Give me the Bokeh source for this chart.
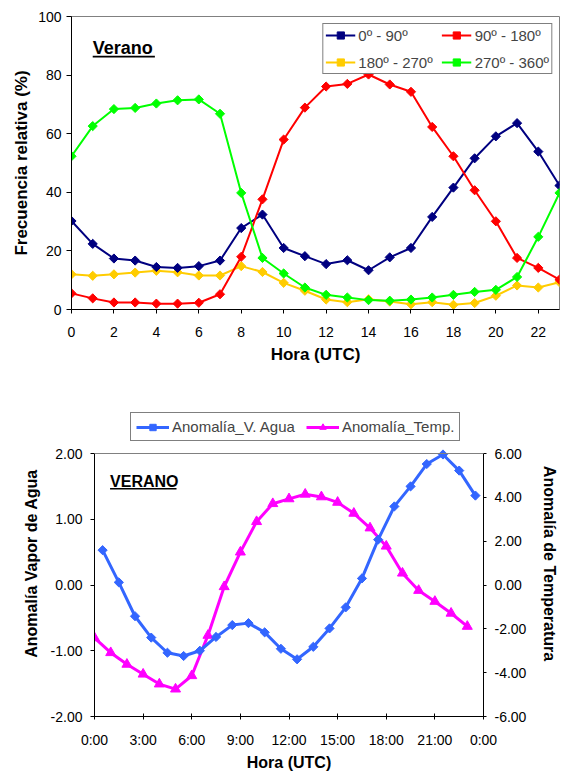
from bokeh.plotting import figure
from bokeh.models import (Range1d, LinearAxis, FixedTicker, PrintfTickFormatter,
                          Legend, LegendItem, Label, BoxAnnotation, Span)
from bokeh.layouts import column
from bokeh.embed import file_html
from bokeh.resources import INLINE
import math

# ---------------- data: top chart ----------------
hours = [0, 1, 2, 3, 4, 5, 6, 7, 8, 9, 10, 11, 12, 13, 14, 15, 16, 17, 18, 19, 20, 21, 22, 23]
s_0_90 = [30.2, 22.4, 17.4, 16.7, 14.5, 14.2, 14.8, 16.7, 27.8, 32.4, 21.0, 18.2,
          15.5, 16.8, 13.4, 17.8, 21.0, 31.6, 41.6, 51.6, 59.1, 63.6, 53.9, 42.3]
s_90_180 = [5.5, 3.8, 2.4, 2.4, 2.0, 2.0, 2.3, 5.2, 18.0, 37.6, 58.0, 68.9,
            76.1, 77.0, 80.2, 76.8, 74.3, 62.3, 52.3, 40.7, 30.1, 17.6, 14.2, 10.2]
s_180_270 = [12.0, 11.5, 12.0, 12.6, 13.2, 12.7, 11.6, 11.6, 14.8, 12.8, 9.1, 6.4,
             3.4, 2.5, 3.5, 2.7, 1.8, 2.5, 1.6, 2.2, 4.7, 8.2, 7.5, 9.3]
s_270_360 = [52.3, 62.6, 68.4, 68.8, 70.3, 71.4, 71.7, 66.8, 39.8, 17.6, 12.3, 7.5,
             5.0, 4.1, 3.2, 3.0, 3.4, 4.1, 5.0, 6.0, 6.7, 11.1, 24.8, 39.8]
top_series_names = ["0º - 90º", "90º - 180º", "180º - 270º", "270º - 360º"]
top_x_ticks = [0, 2, 4, 6, 8, 10, 12, 14, 16, 18, 20, 22]
top_y_ticks = [0, 20, 40, 60, 80, 100]

# ---------------- data: bottom chart ----------------
hours_vapor = [0.5, 1.5, 2.5, 3.5, 4.5, 5.5, 6.5, 7.5, 8.5, 9.5, 10.5, 11.5,
               12.5, 13.5, 14.5, 15.5, 16.5, 17.5, 18.5, 19.5, 20.5, 21.5, 22.5, 23.5]
vapor = [0.53, 0.04, -0.475, -0.80, -1.03, -1.08, -1.00, -0.79, -0.61, -0.58, -0.72, -0.97,
         -1.13, -0.94, -0.66, -0.34, 0.10, 0.69, 1.195, 1.50, 1.84, 1.985, 1.74, 1.36]
hours_temp = [0, 1, 2, 3, 4, 5, 6, 7, 8, 9, 10, 11, 12, 13, 14, 15, 16, 17, 18, 19, 20, 21, 22, 23]
temp = [-2.41, -3.09, -3.62, -4.07, -4.52, -4.75, -4.14, -2.30, -0.08, 1.50, 2.89, 3.71,
        3.93, 4.14, 4.02, 3.77, 3.27, 2.60, 1.77, 0.54, -0.25, -0.75, -1.29, -1.89]
bottom_series_names = ["Anomalía_V. Agua", "Anomalía_Temp."]
bottom_x_ticks = [0, 3, 6, 9, 12, 15, 18, 21, 24]
bottom_x_labels = ["0:00", "3:00", "6:00", "9:00", "12:00", "15:00", "18:00", "21:00", "0:00"]
left_y_ticks = [-2, -1, 0, 1, 2]
right_y_ticks = [-6, -4, -2, 0, 2, 4, 6]
left_y_limits = (-2, 2)
right_y_limits = (-6, 6)

FONT = "Liberation Sans"


def style_axis(ax, label_size="14px", title_size="17px"):
    ax.axis_line_color = "black"
    ax.major_tick_line_color = "black"
    ax.minor_tick_line_color = None
    ax.major_label_text_font = FONT
    ax.major_label_text_font_size = label_size
    ax.major_label_text_color = "black"
    ax.axis_label_text_font = FONT
    ax.axis_label_text_font_size = title_size
    ax.axis_label_text_font_style = "bold"
    ax.axis_label_text_color = "black"


# ================= TOP FIGURE =================
p1 = figure(width=561, height=400, output_backend="svg", toolbar_location=None,
            x_range=Range1d(0, 23), y_range=Range1d(0, 100),
            min_border_left=71, min_border_right=2, min_border_top=16, min_border_bottom=91)
p1.frame_align = False
p1.xgrid.visible = False
p1.ygrid.visible = False
p1.outline_line_color = "#808080"
p1.outline_line_width = 1

xa = p1.xaxis[0]
ya = p1.yaxis[0]
style_axis(xa, title_size="17px")
style_axis(ya, title_size="17px")
xa.ticker = FixedTicker(ticks=top_x_ticks)
ya.ticker = FixedTicker(ticks=top_y_ticks)
xa.axis_label = "Hora (UTC)"
ya.axis_label = "Frecuencia relativa (%)"
xa.major_tick_in = 0
xa.major_tick_out = 4
xa.major_label_standoff = 13
xa.axis_label_standoff = 5
ya.major_tick_in = 0
ya.major_tick_out = 5
ya.major_label_standoff = 5
ya.axis_label_standoff = 4

top_colors = ["#000080", "#FF0000", "#FFCC00", "#00FF00"]
top_data = [s_0_90, s_90_180, s_180_270, s_270_360]
rends = {}
for i in [2, 0, 1, 3]:
    ln = p1.line(hours, top_data[i], line_color=top_colors[i], line_width=2)
    mk = p1.scatter(hours, top_data[i], marker="square", angle=math.pi / 4, size=6.5,
                    fill_color=top_colors[i], line_color=top_colors[i])
    rends[i] = [ln, mk]
items = [LegendItem(label=top_series_names[i], renderers=rends[i]) for i in range(4)]

leg1 = Legend(items=items, location="top_right", orientation="horizontal", nrows=2)
leg1.margin = 7
leg1.padding = 2
leg1.spacing = 9
leg1.glyph_width = 30
leg1.glyph_height = 18
leg1.label_standoff = 3
leg1.label_text_font = FONT
leg1.label_text_font_size = "15px"
leg1.label_height = 18
leg1.border_line_color = "black"
leg1.border_line_width = 1
p1.add_layout(leg1, "center")

p1.add_layout(Label(x=1.0, y=89.1, text="Verano", text_font=FONT, text_font_size="18px",
                    text_font_style="bold", text_color="black", text_baseline="alphabetic"))
p1.add_layout(BoxAnnotation(left=1.0, right=3.93, bottom=86.0, top=86.6,
                            fill_color="black", fill_alpha=1, line_color=None))

# ================= BOTTOM FIGURE =================
# frame extends above the 2.00 tick so the legend sits inside it; axes are bounded
p2 = figure(width=561, height=373, output_backend="svg", toolbar_location=None,
            x_range=Range1d(0, 24), y_range=Range1d(-2, 2.654),
            min_border_left=94, min_border_right=73, min_border_top=10, min_border_bottom=55)
p2.frame_align = False
p2.xgrid.visible = False
p2.ygrid.visible = False
p2.outline_line_color = None
p2.extra_y_ranges = {"temp": Range1d(-6, 7.962)}

bx = p2.xaxis[0]
ly = p2.yaxis[0]
style_axis(bx, title_size="16px")
style_axis(ly, title_size="16px")
bx.ticker = FixedTicker(ticks=bottom_x_ticks)
bx.major_label_overrides = {t: l for t, l in zip(bottom_x_ticks, bottom_x_labels)}
bx.axis_label = "Hora (UTC)"
bx.major_tick_in = 3
bx.major_tick_out = 3
bx.major_label_standoff = 12
bx.axis_label_standoff = 3
ly.ticker = FixedTicker(ticks=left_y_ticks)
ly.bounds = left_y_limits
ly.formatter = PrintfTickFormatter(format="%.2f")
ly.axis_label = "Anomalía Vapor de Agua"
ly.major_tick_in = 0
ly.major_tick_out = 4
ly.major_label_standoff = 8
ly.axis_label_standoff = 8

ry = LinearAxis(y_range_name="temp")
style_axis(ry, title_size="16px")
ry.ticker = FixedTicker(ticks=right_y_ticks)
ry.bounds = right_y_limits
ry.formatter = PrintfTickFormatter(format="%.2f")
ry.axis_label = "Anomalía de Temperatura"
ry.major_tick_in = 0
ry.major_tick_out = 3
ry.major_label_standoff = 8
ry.axis_label_standoff = 12
p2.add_layout(ry, "right")

# top border of the plot area (at the 2.00 level)
p2.add_layout(Span(location=left_y_limits[1], dimension="width", line_color="#808080",
                   line_width=1))

blue = "#3366FF"
mag = "#FF00FF"
l_t = p2.line(hours_temp, temp, line_color=mag, line_width=3, y_range_name="temp")
m_t = p2.scatter(hours_temp, temp, marker="triangle", size=10, fill_color=mag, line_color=mag,
                 y_range_name="temp")
l_v = p2.line(hours_vapor, vapor, line_color=blue, line_width=3)
m_v = p2.scatter(hours_vapor, vapor, marker="square", angle=math.pi / 4, size=6.5,
                 fill_color=blue, line_color=blue)

leg2 = Legend(items=[LegendItem(label=bottom_series_names[0], renderers=[l_v, m_v]),
                     LegendItem(label=bottom_series_names[1], renderers=[l_t, m_t])],
              location=(36, 275), orientation="horizontal")
leg2.padding = 5
leg2.spacing = 11
leg2.glyph_width = 33
leg2.glyph_height = 16
leg2.label_standoff = 3
leg2.label_text_font = FONT
leg2.label_text_font_size = "15px"
leg2.label_height = 16
leg2.border_line_color = "black"
leg2.border_line_width = 1
leg2.margin = 0
p2.add_layout(leg2, "center")

p2.add_layout(Label(x=0.96, y=1.567, text="VERANO", text_font=FONT, text_font_size="16px",
                    text_font_style="bold", text_color="black", text_baseline="alphabetic"))
p2.add_layout(BoxAnnotation(left=0.96, right=5.06, bottom=1.454, top=1.476,
                            fill_color="black", fill_alpha=1, line_color=None))

layout = column(p1, p2, spacing=0)
open("out.html", "w").write(file_html(layout, INLINE))
